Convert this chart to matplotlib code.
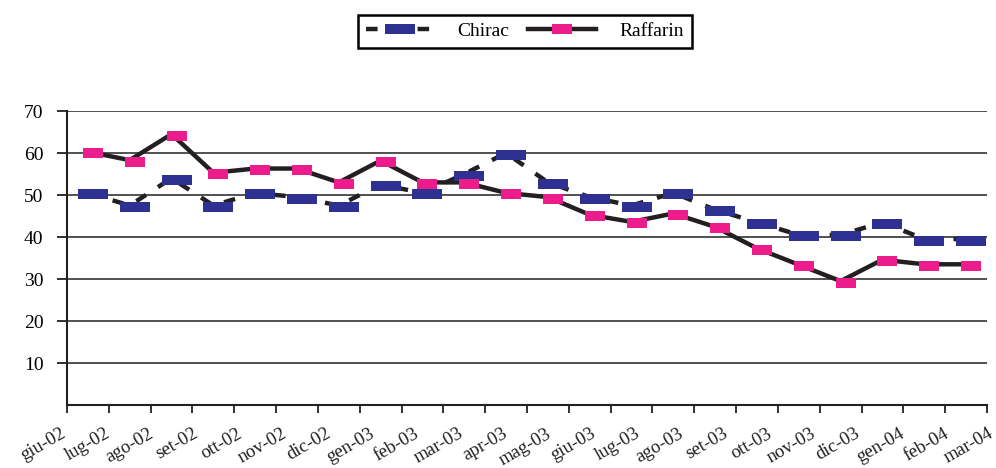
import matplotlib.pyplot as plt
from matplotlib.lines import Line2D
from matplotlib.transforms import offset_copy

plt.rcParams['font.family'] = ['Liberation Serif', 'DejaVu Serif']

mesi = ["giu-02", "lug-02", "ago-02", "set-02", "ott-02", "nov-02", "dic-02",
        "gen-03", "feb-03", "mar-03", "apr-03", "mag-03", "giu-03", "lug-03",
        "ago-03", "set-03", "ott-03", "nov-03", "dic-03", "gen-04", "feb-04",
        "mar-04"]
chirac = [50.5, 47.5, 54, 47.5, 50.5, 49.5, 47.5, 52.5, 50.5, 55, 60, 53,
          49.5, 47.5, 50.5, 46.5, 43.5, 40.5, 40.5, 43.5, 39.5, 39.5]
raffarin = [60.3, 58.3, 64.5, 55.3, 56.3, 56.3, 53, 58.2, 53, 53, 50.5, 49.5,
            45.3, 43.6, 45.6, 42.4, 37.3, 33.4, 29.5, 34.6, 33.5, 33.5]

blu = "#2e3192"
rosa = "#ec1c8c"
nero = "#231f20"

# rettangoli per i marcatori (larghezza:altezza)
rett_c = [(-1.5, -0.5), (1.5, -0.5), (1.5, 0.5), (-1.5, 0.5), (-1.5, -0.5)]
rett_r = [(-1, -0.5), (1, -0.5), (1, 0.5), (-1, 0.5), (-1, -0.5)]

fig = plt.figure(figsize=(9.96, 4.68), dpi=100)
ax = fig.add_axes([67 / 996, 1 - 405 / 468, 920 / 996, 294 / 468])

x = [i + 0.5 for i in range(len(chirac))]
ax.plot(x, chirac, color=nero, lw=3.2, linestyle=(0, (2.6, 3.2)), zorder=3)
ax.plot(x, raffarin, color=nero, lw=3.2, solid_joinstyle='miter', zorder=3)

# i marcatori sono leggermente spostati rispetto alle linee
tr = offset_copy(ax.transData, fig=fig, x=5, y=-1.5, units='dots')
ax.plot(x, chirac, linestyle='none', marker=rett_c, markersize=21,
        markerfacecolor=blu, markeredgecolor=blu, markeredgewidth=0,
        transform=tr, zorder=4)
ax.plot(x, raffarin, linestyle='none', marker=rett_r, markersize=14,
        markerfacecolor=rosa, markeredgecolor=rosa, markeredgewidth=0,
        transform=tr, zorder=4)

ax.set_xlim(0, 22)
ax.set_ylim(0, 70)
ax.set_yticks(range(10, 80, 10))
ax.set_yticklabels([str(v) for v in range(10, 80, 10)], fontsize=14)
ax.yaxis.grid(True, color="#333333", lw=1.2)
ax.set_axisbelow(True)

ax.set_xticks(range(23))
ax.set_xticklabels([])
ax.tick_params(axis='both', direction='out', length=7, width=1.3, color=nero)
ax.tick_params(axis='y', pad=10)
ax.tick_params(axis='x', length=6)

# etichette dei mesi distribuite su tutta la larghezza dell'asse
passo = 1.056
for i, m in enumerate(mesi):
    ax.text(-0.17 + i * passo, -4.8, m, rotation=30, ha='right', va='top',
            rotation_mode='anchor', fontsize=13.5, color=nero)

for s in ['top', 'right']:
    ax.spines[s].set_visible(False)
for s in ['left', 'bottom']:
    ax.spines[s].set_linewidth(1.5)
    ax.spines[s].set_color(nero)

handles = [
    Line2D([], [], color=nero, lw=3.2, linestyle=(0, (2.6, 3.2)),
           marker=rett_c, markersize=21, markerfacecolor=blu,
           markeredgewidth=0),
    Line2D([], [], color=nero, lw=3.2, marker=rett_r, markersize=14,
           markerfacecolor=rosa, markeredgewidth=0),
]
leg = fig.legend(handles, ["Chirac", "Raffarin"], loc='center',
                 bbox_to_anchor=(0.527, 0.933), ncol=2, fontsize=14,
                 handlelength=3.5, handletextpad=1.2, columnspacing=1.0,
                 fancybox=False, edgecolor='black', framealpha=1,
                 borderpad=0.4, borderaxespad=0)
leg.get_frame().set_linewidth(1.8)

plt.savefig("out.png", dpi=100)
